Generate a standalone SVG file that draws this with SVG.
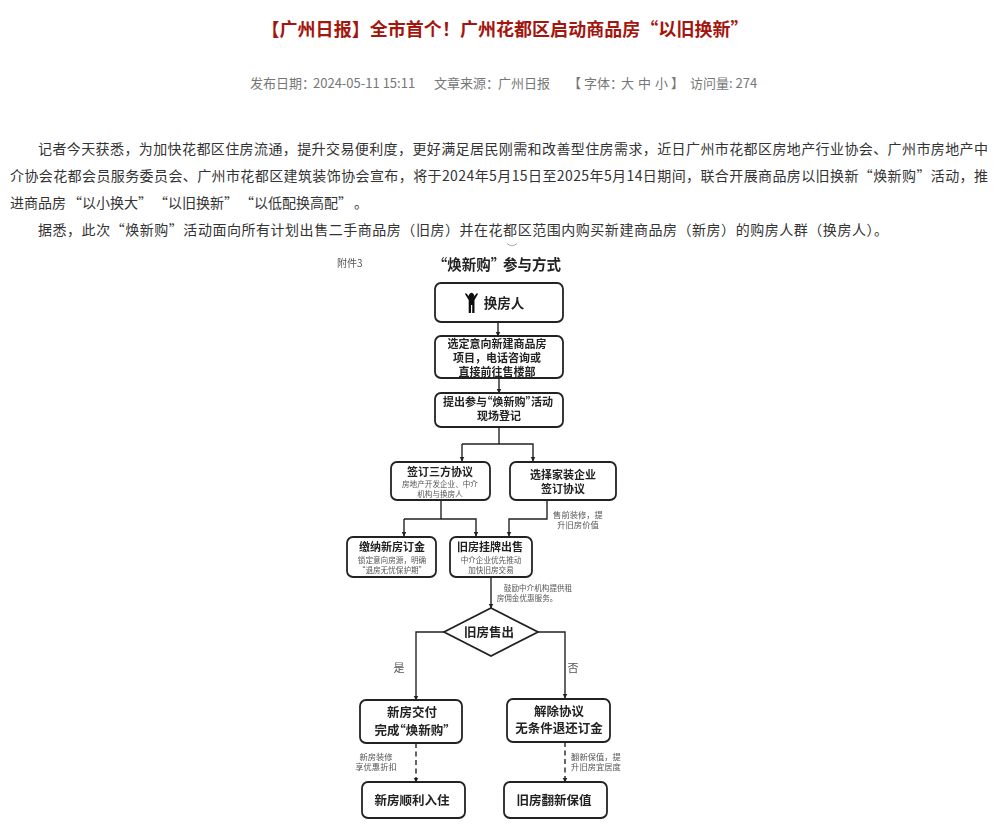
<svg xmlns="http://www.w3.org/2000/svg" width="1004" height="840" viewBox="0 0 1004 840">
<style>
text{font-family:"Noto Sans CJK SC","Noto Sans",sans-serif}
.title{font-size:18px;font-weight:700;fill:#a3160e;text-anchor:middle}
.meta{font-size:13px;fill:#777}
.body{font-size:14px;fill:#333}
.box{fill:#fff;stroke:#222;stroke-width:1.8}
.c{fill:none;stroke:#222;stroke-width:1.4}
.d{stroke-dasharray:5 3.5}
.a{marker-end:url(#arrow)}
.n{font-size:11px;font-weight:700;fill:#222;text-anchor:middle}
.l{font-size:12.5px;font-weight:700;fill:#222;text-anchor:middle}
.s{font-size:7.6px;fill:#555;text-anchor:middle}
.t{font-size:8.3px;fill:#555;text-anchor:middle}
.y{font-size:11px;fill:#555;text-anchor:middle}
.p{font-feature-settings:"palt"}
</style>
<defs>
<marker id="arrow" markerWidth="6" markerHeight="6" refX="4.5" refY="2.5" orient="auto" markerUnits="userSpaceOnUse"><path d="M0 0L5 2.5L0 5z" fill="#222"/></marker>
<filter id="soft" x="-5%" y="-5%" width="110%" height="110%"><feGaussianBlur stdDeviation="0.4"/></filter>
</defs>
<rect width="1004" height="840" fill="#fff"/>
<g id="article">
<text class="title" x="505" y="36" textLength="487" lengthAdjust="spacing">【广州日报】全市首个！广州花都区启动商品房“以旧换新”</text>
<text class="meta" x="250" y="88">发布日期：<tspan x="313">2024-05-11 15:11</tspan></text>
<text class="meta" x="434" y="88">文章来源：<tspan x="498">广州日报</tspan></text>
<text class="meta" x="568" y="88">【<tspan x="584">字体：</tspan><tspan x="621">大</tspan><tspan x="638">中</tspan><tspan x="655">小</tspan><tspan x="671">】</tspan></text>
<text class="meta" x="690" y="88">访问量: 274</text>
<text class="body" x="38" y="154" textLength="950" lengthAdjust="spacing">记者今天获悉，为加快花都区住房流通，提升交易便利度，更好满足居民刚需和改善型住房需求，近日广州市花都区房地产行业协会、广州市房地产中</text>
<text class="body" x="10" y="181" textLength="978" lengthAdjust="spacing">介协会花都会员服务委员会、广州市花都区建筑装饰协会宣布，将于2024年5月15日至2025年5月14日期间，联合开展商品房以旧换新“焕新购”活动，推</text>
<text class="body" x="10" y="208">进商品房<tspan x="68">“以小换大”</tspan><tspan x="154">“以旧换新”</tspan><tspan x="240">“以低配换高配”</tspan><tspan x="354">。</tspan></text>
<text class="body" x="38" y="235" textLength="850" lengthAdjust="spacing">据悉，此次“焕新购”活动面向所有计划出售二手商品房（旧房）并在花都区范围内购买新建商品房（新房）的购房人群（换房人）。</text>
<path d="M507 243.500Q512 248 517 243.500" fill="none" stroke="#aaa" stroke-width="1"/>
</g>
<g filter="url(#soft)">
<g id="connectors">
<path class="c a" d="M498 322V336"/>
<path class="c a" d="M499 378V393"/>
<path class="c" d="M499 427V444"/>
<path class="c a" d="M462 444H533V461"/>
<path class="c a" d="M462 444V461"/>
<path class="c" d="M441 500V519"/>
<path class="c a" d="M404 519H476V536"/>
<path class="c a" d="M404 519V536"/>
<path class="c a" d="M547 500V519H509V536"/>
<path class="c a" d="M491 577V608"/>
<path class="c a" d="M444 632H416V700"/>
<path class="c a" d="M538 632H565V698"/>
<path class="c d a" d="M416 743V782"/>
<path class="c d a" d="M565 742V782"/>
</g>
<g id="labels">
<text x="337" y="267" style="font-size:10px;fill:#555">附件3</text>
<text class="p" x="440" y="270" style="font-size:14.500px;font-weight:700;fill:#222">“焕新购”<tspan x="503">参与方式</tspan></text>
<text class="t" x="578" y="518">售前装修，提</text>
<text class="t" x="578" y="528">升旧房价值</text>
<text class="s" x="538" y="591">鼓励中介机构提供租</text>
<text class="s" x="527" y="601">房佣金优惠服务。</text>
<text class="y" x="399" y="672">是</text>
<text class="y" x="573" y="672">否</text>
<text class="t" x="376" y="760">新房装修</text>
<text class="t" x="376" y="770">享优惠折扣</text>
<text class="t" x="596" y="760">翻新保值，提</text>
<text class="t" x="596" y="770">升旧房宜居度</text>
</g>
<g id="n1"><rect class="box" x="435" y="283" width="128" height="39" rx="6"/>
<path d="M466 293L470 297.500A2.500 2.500 0 1 1 473 297.500L477 293L478 294L474.500 300V313H472.200V305H471V313H468.700V300L465 294z" fill="#111"/>
<text x="504" y="308" style="font-size:13.500px;font-weight:700;fill:#222;text-anchor:middle">换房人</text></g>
<g id="n2"><rect class="box" x="435" y="336" width="128" height="42" rx="6"/>
<text class="n" x="497" y="347.500">选定意向新建商品房</text><text class="n" x="497" y="361.500">项目，电话咨询或</text><text class="n" x="497" y="375.500">直接前往售楼部</text></g>
<g id="n3"><rect class="box" x="435" y="393" width="128" height="34" rx="6"/>
<text class="n p" x="498" y="406">提出参与“焕新购”活动</text><text class="n" x="499" y="420">现场登记</text></g>
<g id="n4"><rect class="box" x="391" y="462" width="99" height="38" rx="6"/>
<text class="n" x="440" y="476">签订三方协议</text><text class="s" x="440" y="487">房地产开发企业、中介</text><text class="s" x="440" y="497">机构与换房人</text></g>
<g id="n5"><rect class="box" x="510" y="462" width="106" height="38" rx="6"/>
<text class="n" x="563" y="478.500">选择家装企业</text><text class="n" x="563" y="492.500">签订协议</text></g>
<g id="n6"><rect class="box" x="347" y="537" width="89" height="40" rx="6"/>
<text class="n" x="392" y="551">缴纳新房订金</text><text class="s" x="392" y="563">锁定意向房源，明确</text><text class="s p" x="392" y="573">“退房无忧保护期”</text></g>
<g id="n7"><rect class="box" x="450" y="537" width="82" height="40" rx="6"/>
<text class="n" x="490" y="551">旧房挂牌出售</text><text class="s" x="491" y="563">中介企业优先推动</text><text class="s" x="491" y="573">加快旧房交易</text></g>
<g id="n8"><path class="box" d="M491 608L538 632L491 656L444 632z"/>
<text class="l" x="489" y="637">旧房售出</text></g>
<g id="n9"><rect class="box" x="360" y="700" width="102" height="43" rx="6"/>
<text class="l" x="412" y="717">新房交付</text><text class="l p" x="412" y="734.500">完成“焕新购”</text></g>
<g id="n10"><rect class="box" x="507" y="699" width="103" height="43" rx="6"/>
<text class="l" x="559" y="715.500">解除协议</text><text class="l" x="559" y="733">无条件退还订金</text></g>
<g id="n11"><rect class="box" x="362" y="782" width="103" height="36" rx="6"/>
<text class="l" x="412" y="805">新房顺利入住</text></g>
<g id="n12"><rect class="box" x="504" y="782" width="103" height="36" rx="6"/>
<text class="l" x="554" y="805">旧房翻新保值</text></g>
</g>
</svg>
